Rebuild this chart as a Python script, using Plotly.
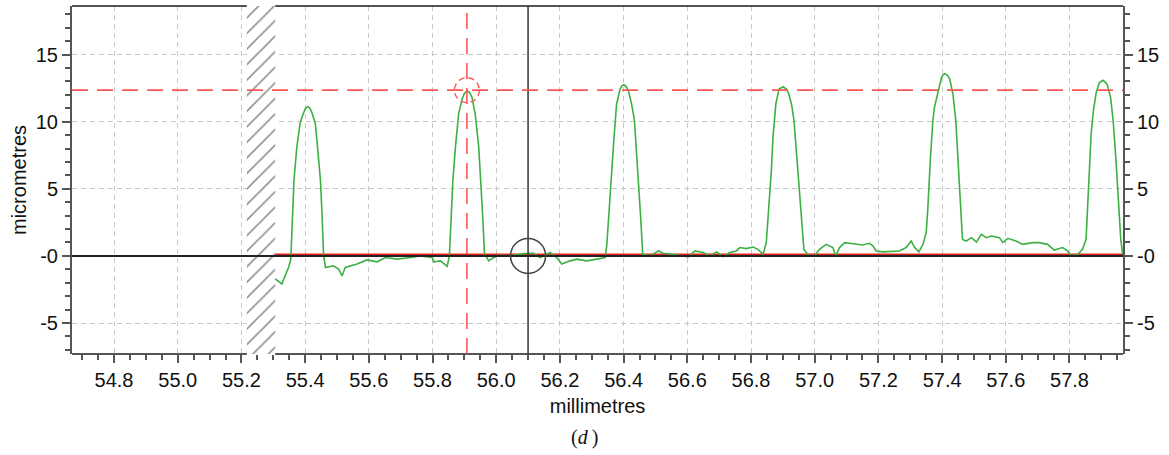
import plotly.graph_objects as go

# ---------------- data ----------------
profile_mm = [
    # start + peak 1
    55.306, 55.327, 55.337, 55.348, 55.355, 55.361, 55.365, 55.374, 55.384, 55.390,
    55.395, 55.401, 55.409, 55.415, 55.421, 55.426, 55.432, 55.439, 55.448, 55.453,
    55.458, 55.464, 55.489, 55.505, 55.516, 55.526, 55.563, 55.594, 55.626, 55.652,
    55.689, 55.731, 55.762, 55.799, 55.804, 55.825, 55.846,
    # peak 2
    55.853, 55.859, 55.864, 55.872, 55.882, 55.893, 55.900, 55.908, 55.916, 55.924,
    55.934, 55.945, 55.952, 55.957, 55.963, 55.976, 55.992, 56.013, 56.044, 56.086,
    56.117, 56.138, 56.169, 56.190, 56.206, 56.232, 56.253, 56.284, 56.316, 56.342,
    # peak 3
    56.347, 56.355, 56.363, 56.370, 56.378, 56.389, 56.395, 56.401, 56.408, 56.415,
    56.425, 56.434, 56.441, 56.448, 56.454, 56.460, 56.483, 56.509, 56.525, 56.551,
    56.577, 56.603, 56.624, 56.650, 56.671, 56.692, 56.713, 56.733, 56.754, 56.765,
    56.786, 56.806, 56.822, 56.838,
    # peak 4
    56.848, 56.857, 56.864, 56.869, 56.878, 56.888, 56.896, 56.901, 56.911, 56.917,
    56.927, 56.935, 56.943, 56.951, 56.959, 56.966, 56.980, 56.999, 57.015, 57.036,
    57.057, 57.066, 57.078, 57.094, 57.120, 57.151, 57.172, 57.183, 57.193, 57.214,
    57.266, 57.287, 57.303, 57.314, 57.327, 57.340,
    # peak 5
    57.350, 57.355, 57.363, 57.371, 57.376, 57.387, 57.398, 57.403, 57.408, 57.417,
    57.424, 57.434, 57.443, 57.450, 57.458, 57.464, 57.476, 57.492, 57.508, 57.523,
    57.539, 57.555, 57.580, 57.591, 57.606, 57.632, 57.653, 57.684, 57.705, 57.731,
    57.752, 57.778, 57.794, 57.805, 57.826, 57.841,
    # peak 6
    57.852, 57.857, 57.863, 57.868, 57.875, 57.884, 57.894, 57.900, 57.905, 57.911,
    57.918, 57.929, 57.937, 57.946, 57.953, 57.961, 57.967,
]
profile_um = [
    # start + peak 1
    -1.72, -2.09, -1.48, -0.86, -0.24, 3.20, 5.66, 8.12, 9.85, 10.33,
    10.70, 11.00, 11.12, 11.00, 10.70, 10.33, 9.85, 8.12, 5.66, 3.20,
    0.00, -0.86, -0.74, -0.98, -1.48, -0.86, -0.61, -0.30, -0.44, -0.12,
    -0.24, -0.12, 0.00, -0.12, -0.44, -0.37, -0.78,
    # peak 2
    0.00, 3.20, 5.66, 8.12, 10.58, 11.69, 12.10, 12.30, 12.18, 11.81,
    10.58, 8.12, 5.66, 3.20, 0.25, -0.37, -0.12, 0.05, 0.00, 0.17,
    0.20, -0.12, 0.25, -0.12, -0.61, -0.37, -0.24, -0.37, -0.24, -0.12,
    # peak 3
    0.74, 3.94, 6.40, 8.86, 11.32, 12.43, 12.67, 12.75, 12.62, 12.30,
    11.32, 10.09, 7.63, 5.17, 2.71, 0.12, 0.00, 0.37, 0.20, 0.12,
    0.00, -0.07, 0.37, 0.25, 0.00, 0.30, -0.07, 0.25, 0.37, 0.62,
    0.54, 0.66, 0.49, 0.12,
    # peak 4
    0.99, 3.94, 6.40, 8.86, 11.32, 12.43, 12.55, 12.60, 12.43, 12.18,
    11.32, 10.09, 7.63, 5.17, 2.71, 0.49, 0.05, 0.00, 0.49, 0.86,
    0.62, 0.00, 0.62, 0.99, 0.91, 0.81, 0.94, 0.74, 0.37, 0.30,
    0.37, 0.62, 1.11, 0.62, 0.30, 0.86,
    # peak 5
    1.73, 3.45, 7.14, 10.09, 11.07, 12.30, 13.28, 13.48, 13.58, 13.46,
    13.17, 12.06, 10.09, 7.14, 4.18, 1.23, 1.11, 1.36, 1.03, 1.60,
    1.36, 1.48, 1.36, 0.99, 1.31, 1.11, 0.86, 0.99, 0.99, 0.86,
    0.44, 0.62, 0.37, 0.00, 0.12, 0.49,
    # peak 6
    1.23, 3.45, 6.64, 9.11, 10.83, 12.18, 12.92, 13.02, 13.09, 12.97,
    12.80, 11.81, 10.09, 7.14, 4.18, 1.23, 0.12,
]

x_range = [54.668, 57.968]
y_range = [-7.31, 18.62]
x_tick_start = 54.8
x_tick_step = 0.2
x_minor_step = 0.05
y_tick_vals = [-5, 0, 5, 10, 15]
y_tick_text = ["-5", "-0", "5", "10", "15"]
y_minor_step = 1

gap_start_mm = 55.217          # hatched (no data) band
gap_end_mm = 55.306
zero_level = 0.0
fitted_level = 0.1             # red reference line just above zero
cursor_mm = 56.1               # black cursor
marker_mm = 55.908             # red peak marker
marker_um = 12.35

# ---------------- style ----------------
FONT = "Liberation Sans, Arial, sans-serif"
AXIS_COL = "#555555"
GRID_COL = "#c8c8c8"
GREEN = "#3cb043"
RED_DASH = "rgb(255,85,85)"
FS = 20

fig = go.Figure()

# hatched band (covers grid)
fig.add_trace(go.Scatter(
    x=[gap_start_mm, gap_end_mm, gap_end_mm, gap_start_mm, gap_start_mm],
    y=[y_range[0] - 5, y_range[0] - 5, y_range[1] + 5, y_range[1] + 5, y_range[0] - 5],
    mode="lines", line=dict(width=0), fill="toself", fillcolor="white",
    fillpattern=dict(shape="/", fgcolor="#858585", bgcolor="white", size=11,
                     solidity=0.14, fillmode="replace"),
    hoverinfo="skip", showlegend=False,
))

# red fitted baseline
fig.add_trace(go.Scatter(
    x=[gap_end_mm, x_range[1]], y=[fitted_level, fitted_level],
    mode="lines", line=dict(color="#e8201c", width=2),
    hoverinfo="skip", showlegend=False,
))
# black zero line (also drives the right-hand axis)
fig.add_trace(go.Scatter(
    x=x_range, y=[zero_level, zero_level], yaxis="y2",
    mode="lines", line=dict(color="#222222", width=2),
    hoverinfo="skip", showlegend=False,
))
# measured profile
fig.add_trace(go.Scatter(
    x=profile_mm, y=profile_um, mode="lines",
    line=dict(color=GREEN, width=1.6),
    hoverinfo="skip", showlegend=False,
))

shapes = []
# frame top/bottom, broken at the hatched band
for yv in (0, 1):
    for xa, xb in ((x_range[0], gap_start_mm), (gap_end_mm, x_range[1])):
        shapes.append(dict(type="line", xref="x", yref="paper", x0=xa, x1=xb, y0=yv, y1=yv,
                           line=dict(color=AXIS_COL, width=2), layer="above"))
# cursor
shapes.append(dict(type="line", xref="x", yref="paper", x0=cursor_mm, x1=cursor_mm, y0=0, y1=1,
                   line=dict(color="#333333", width=1.5)))
shapes.append(dict(type="circle", xref="x", yref="y", xsizemode="pixel", ysizemode="pixel",
                   xanchor=cursor_mm, yanchor=zero_level, x0=-17.5, x1=17.5, y0=-17.5, y1=17.5,
                   line=dict(color="#444444", width=1.5)))
# red marker lines and circle
shapes.append(dict(type="line", xref="x", yref="paper", x0=marker_mm, x1=marker_mm, y0=0, y1=1,
                   line=dict(color=RED_DASH, width=1.6, dash="16px,9px")))
shapes.append(dict(type="line", xref="paper", yref="y", x0=0, x1=1, y0=marker_um, y1=marker_um,
                   line=dict(color=RED_DASH, width=1.6, dash="16px,9px")))
shapes.append(dict(type="circle", xref="x", yref="y", xsizemode="pixel", ysizemode="pixel",
                   xanchor=marker_mm, yanchor=marker_um, x0=-12.5, x1=12.5, y0=-12.5, y1=12.5,
                   line=dict(color=RED_DASH, width=1.4, dash="6px,4px")))

tickfont = dict(family=FONT, size=FS, color="#111111")

yaxis_common = dict(
    range=y_range, tickmode="array", tickvals=y_tick_vals, ticktext=y_tick_text,
    ticks="outside", ticklen=8, tickwidth=1.5, tickcolor=AXIS_COL,
    minor=dict(tickmode="linear", tick0=0, dtick=y_minor_step, ticks="outside",
               ticklen=5, tickwidth=1.5, tickcolor=AXIS_COL, showgrid=False),
    showline=True, linecolor=AXIS_COL, linewidth=2, zeroline=False,
    tickfont=tickfont, fixedrange=True,
)

fig.update_layout(
    width=1169, height=455, autosize=False,
    margin=dict(l=72, r=46, t=6, b=101),
    paper_bgcolor="white", plot_bgcolor="white",
    font=dict(family=FONT, size=FS, color="#111111"),
    showlegend=False,
    xaxis=dict(
        range=x_range, tickmode="linear", tick0=x_tick_start, dtick=x_tick_step,
        tickformat=".1f", ticks="outside", ticklen=8, tickwidth=1.5, tickcolor=AXIS_COL,
        minor=dict(tick0=x_tick_start, dtick=x_minor_step, ticks="outside", ticklen=5,
                   tickwidth=1.5, tickcolor=AXIS_COL, showgrid=False),
        showgrid=True, gridcolor=GRID_COL, gridwidth=1, griddash="5px,4px",
        showline=False, zeroline=False, tickfont=tickfont,
        title=dict(text="millimetres", font=dict(family=FONT, size=FS, color="#111111"),
                   standoff=8),
    ),
    yaxis=dict(
        **yaxis_common, side="left",
        showgrid=True, gridcolor=GRID_COL, gridwidth=1, griddash="5px,4px",
        title=dict(text="micrometres", font=dict(family=FONT, size=FS, color="#111111"),
                   standoff=4),
    ),
    yaxis2=dict(
        **yaxis_common, side="right", overlaying="y", matches="y", showgrid=False,
    ),
    shapes=shapes,
    annotations=[dict(
        text="(<i>d</i>\u2009)", xref="paper", yref="paper", x=0.488, y=-0.241,
        xanchor="center", yanchor="middle", showarrow=False,
        font=dict(family="Liberation Serif, Times New Roman, serif", size=20, color="#111111"),
    )],
)

fig.write_html("out.html")
